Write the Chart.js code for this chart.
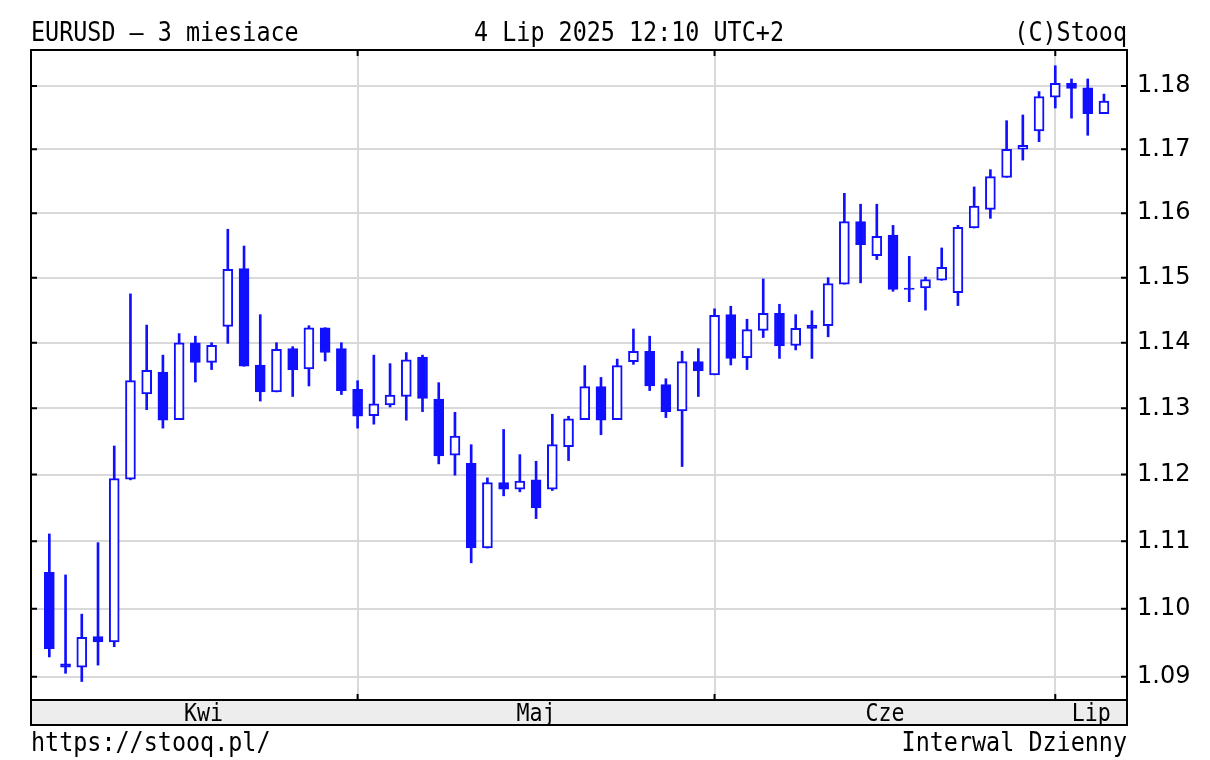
<!DOCTYPE html>
<html>
<head>
<meta charset="utf-8">
<script src="https://cdn.jsdelivr.net/npm/chart.js@4.4.1/dist/chart.umd.min.js"></script>
<style>
  html, body { margin: 0; padding: 0; background: #fff; }
  #wrap { width: 1210px; height: 760px; position: relative; }
</style>
</head>
<body>
<div id="wrap"><canvas id="stooq-chart"></canvas></div>
<script>
// dzienne notowania EURUSD (04.04 - 04.07.2025)
let days = [
  "2025-04-04", "2025-04-07", "2025-04-08", "2025-04-09", "2025-04-10", "2025-04-11",
  "2025-04-14", "2025-04-15", "2025-04-16", "2025-04-17", "2025-04-18",
  "2025-04-21", "2025-04-22", "2025-04-23", "2025-04-24", "2025-04-25",
  "2025-04-28", "2025-04-29", "2025-04-30",
  "2025-05-01", "2025-05-02", "2025-05-05", "2025-05-06", "2025-05-07", "2025-05-08", "2025-05-09",
  "2025-05-12", "2025-05-13", "2025-05-14", "2025-05-15", "2025-05-16",
  "2025-05-19", "2025-05-20", "2025-05-21", "2025-05-22", "2025-05-23",
  "2025-05-26", "2025-05-27", "2025-05-28", "2025-05-29", "2025-05-30",
  "2025-06-02", "2025-06-03", "2025-06-04", "2025-06-05", "2025-06-06",
  "2025-06-09", "2025-06-10", "2025-06-11", "2025-06-12", "2025-06-13",
  "2025-06-16", "2025-06-17", "2025-06-18", "2025-06-19", "2025-06-20",
  "2025-06-23", "2025-06-24", "2025-06-25", "2025-06-26", "2025-06-27",
  "2025-06-30", "2025-07-01", "2025-07-02", "2025-07-03", "2025-07-04"
];
let open = [
  1.1054, 1.0919, 1.0914, 1.0959, 1.0951, 1.1193, 1.1322, 1.1355, 1.1283, 1.1400, 1.1370,
  1.1425, 1.1514, 1.1366, 1.1325, 1.1391, 1.1360, 1.1423, 1.1391,
  1.1329, 1.1289, 1.1305, 1.1318, 1.1378, 1.1314, 1.1229, 1.1217, 1.1090, 1.1188, 1.1178,
  1.1192, 1.1178, 1.1242, 1.1283, 1.1333, 1.1283, 1.1371, 1.1387, 1.1336, 1.1296, 1.1371,
  1.1351, 1.1443, 1.1377, 1.1419, 1.1445, 1.1396, 1.1427, 1.1426, 1.1490, 1.1587,
  1.1534, 1.1566, 1.1484, 1.1484, 1.1496, 1.1477, 1.1577, 1.1606, 1.1656, 1.1700, 1.1729,
  1.1782, 1.1804, 1.1797, 1.1756
];
let high = [
  1.1111, 1.1050, 1.0992, 1.1098, 1.1243, 1.1475, 1.1427, 1.1381, 1.1414, 1.1410, 1.1400,
  1.1575, 1.1549, 1.1443, 1.1400, 1.1394, 1.1426, 1.1423, 1.1400,
  1.1342, 1.1381, 1.1368, 1.1385, 1.1381, 1.1339, 1.1294, 1.1245, 1.1195, 1.1268, 1.1230,
  1.1220, 1.1291, 1.1288, 1.1365, 1.1347, 1.1375, 1.1421, 1.1410, 1.1345, 1.1387, 1.1391,
  1.1452, 1.1456, 1.1436, 1.1498, 1.1459, 1.1443, 1.1449, 1.1500, 1.1631, 1.1614,
  1.1614, 1.1581, 1.1533, 1.1501, 1.1546, 1.1581, 1.1641, 1.1668, 1.1745, 1.1754, 1.1791,
  1.1832, 1.1811, 1.1811, 1.1787
];
let low = [
  1.0929, 1.0905, 1.0893, 1.0917, 1.0944, 1.1192, 1.1298, 1.1270, 1.1283, 1.1340, 1.1359,
  1.1399, 1.1364, 1.1311, 1.1325, 1.1318, 1.1334, 1.1372, 1.1321,
  1.1270, 1.1276, 1.1302, 1.1282, 1.1295, 1.1216, 1.1199, 1.1068, 1.1090, 1.1168, 1.1174,
  1.1134, 1.1176, 1.1221, 1.1283, 1.1260, 1.1283, 1.1367, 1.1327, 1.1286, 1.1212, 1.1318,
  1.1351, 1.1366, 1.1359, 1.1408, 1.1376, 1.1389, 1.1376, 1.1409, 1.1490, 1.1492,
  1.1528, 1.1479, 1.1463, 1.1450, 1.1496, 1.1457, 1.1577, 1.1592, 1.1656, 1.1683, 1.1712,
  1.1765, 1.1749, 1.1722, 1.1756
];
let close = [
  1.0941, 1.0914, 1.0958, 1.0951, 1.1194, 1.1342, 1.1358, 1.1282, 1.1400, 1.1370, 1.1396,
  1.1513, 1.1364, 1.1325, 1.1390, 1.1359, 1.1423, 1.1385, 1.1327,
  1.1288, 1.1307, 1.1320, 1.1374, 1.1315, 1.1228, 1.1258, 1.1090, 1.1188, 1.1178, 1.1190,
  1.1150, 1.1245, 1.1284, 1.1333, 1.1282, 1.1365, 1.1387, 1.1334, 1.1295, 1.1371, 1.1357,
  1.1442, 1.1376, 1.1420, 1.1445, 1.1395, 1.1422, 1.1422, 1.1491, 1.1587, 1.1551,
  1.1564, 1.1482, 1.1482, 1.1497, 1.1516, 1.1578, 1.1611, 1.1657, 1.1700, 1.1706, 1.1783,
  1.1804, 1.1796, 1.1756, 1.1776
];
let monthNames = ["Kwi", "Maj", "Cze", "Lip"];
let yTicks = [1.09, 1.10, 1.11, 1.12, 1.13, 1.14, 1.15, 1.16, 1.17, 1.18];

let titleLeft = "EURUSD \u2013 3 miesiace";
let titleMid = "4 Lip 2025 12:10 UTC+2";
let titleRight = "(C)Stooq";
let footLeft = "https://stooq.pl/";
let footRight = "Interwal Dzienny";

let blue = "#1010ff";
let xMin = -1.13;
let xMax = 66.42;

// indeksy pierwszych sesji kazdego miesiaca
let monthStarts = [0];
for (let i = 1; i < days.length; i++) {
  if (days[i].slice(5, 7) !== days[i - 1].slice(5, 7)) monthStarts.push(i);
}

function drawText(ctx, text, x, y, align, size) {
  ctx.save();
  ctx.translate(x, y);
  ctx.scale(0.9, 1);
  ctx.font = size + 'px "DejaVu Sans Mono"';
  ctx.fillStyle = "#000";
  ctx.textAlign = align;
  ctx.textBaseline = "alphabetic";
  ctx.fillText(text, 0, 0);
  ctx.restore();
}

let stooqFrame = {
  id: "stooqFrame",
  beforeDraw(chart) {
    let ctx = chart.ctx;
    let a = chart.chartArea;
    ctx.save();
    ctx.fillStyle = "#fff";
    ctx.fillRect(0, 0, chart.width, chart.height);
    ctx.fillStyle = "#ededed";
    ctx.fillRect(a.left, a.bottom, a.right - a.left, 25);
    ctx.restore();
  },
  afterDraw(chart) {
    let ctx = chart.ctx;
    let a = chart.chartArea;
    let xs = chart.scales.x;
    let ys = chart.scales.y;
    ctx.save();
    ctx.strokeStyle = "#000";
    ctx.lineWidth = 2;
    ctx.strokeRect(a.left, a.top, a.right - a.left, a.bottom - a.top);
    ctx.strokeRect(a.left, a.bottom, a.right - a.left, 25);
    // kreski podzialki
    ctx.beginPath();
    yTicks.forEach(function (v) {
      let y = ys.getPixelForValue(v);
      ctx.moveTo(a.left, y);
      ctx.lineTo(a.left + 6, y);
      ctx.moveTo(a.right - 6, y);
      ctx.lineTo(a.right, y);
    });
    monthStarts.slice(1).forEach(function (i) {
      let x = xs.getPixelForValue(i);
      ctx.moveTo(x, a.top);
      ctx.lineTo(x, a.top + 6);
      ctx.moveTo(x, a.bottom - 6);
      ctx.lineTo(x, a.bottom);
    });
    ctx.stroke();
    ctx.restore();

    // nazwy miesiecy
    monthNames.forEach(function (name, m) {
      let from = monthStarts[m];
      let to = m + 1 < monthStarts.length ? monthStarts[m + 1] : xMax;
      let x = xs.getPixelForValue((from + to) / 2);
      drawText(ctx, name, x, a.bottom + 21, "center", 24);
    });

    drawText(ctx, titleLeft, a.left, 41, "left", 26);
    drawText(ctx, titleMid, (a.left + a.right) / 2 + 50, 41, "center", 26);
    drawText(ctx, titleRight, a.right, 41, "right", 26);
    drawText(ctx, footLeft, a.left, 751, "left", 26);
    drawText(ctx, footRight, a.right, 751, "right", 26);
  },
};

let ctx = document.querySelector("#stooq-chart");
let chart = new Chart(ctx, {
  type: "bar",
  data: {
    datasets: [
      {
        label: "knoty",
        data: days.map(function (d, i) {
          return { x: i, y: [low[i], high[i]] };
        }),
        backgroundColor: blue,
        borderWidth: 0,
        barThickness: 2,
        grouped: false,
        order: 2,
      },
      {
        label: "korpusy",
        data: days.map(function (d, i) {
          return { x: i, y: [Math.min(open[i], close[i]), Math.max(open[i], close[i])] };
        }),
        backgroundColor: days.map(function (d, i) {
          return close[i] >= open[i] ? "#ffffff" : blue;
        }),
        borderColor: blue,
        borderWidth: 2,
        borderSkipped: false,
        barThickness: 10,
        grouped: false,
        order: 1,
      },
    ],
  },
  options: {
    responsive: true,
    maintainAspectRatio: false,
    animation: false,
    layout: {
      padding: { left: 31, top: 50, right: 0, bottom: 60 },
    },
    plugins: {
      legend: { display: false },
      tooltip: { enabled: false },
    },
    scales: {
      x: {
        type: "linear",
        min: xMin,
        max: xMax,
        offset: false,
        bounds: "data",
        afterBuildTicks: function (scale) {
          scale.ticks = monthStarts.slice(1).map(function (i) {
            return { value: i };
          });
        },
        afterFit: function (scale) {
          scale.height = 0;
        },
        ticks: { display: false },
        grid: { color: "#d9d9d9", lineWidth: 2, drawTicks: false, offset: false },
        border: { display: false },
      },
      y: {
        type: "logarithmic",
        position: "right",
        min: 1.0866,
        max: 1.1857,
        afterBuildTicks: function (scale) {
          scale.ticks = yTicks.map(function (v) {
            return { value: v };
          });
        },
        afterFit: function (scale) {
          scale.width = 83;
        },
        ticks: {
          color: "#000",
          padding: 10,
          font: { family: "DejaVu Sans", size: 24 },
          callback: function (v) {
            return Number(v).toFixed(2);
          },
        },
        grid: { color: "#d9d9d9", lineWidth: 2, drawTicks: false },
        border: { display: false },
      },
    },
  },
  plugins: [stooqFrame],
});
</script>
</body>
</html>
